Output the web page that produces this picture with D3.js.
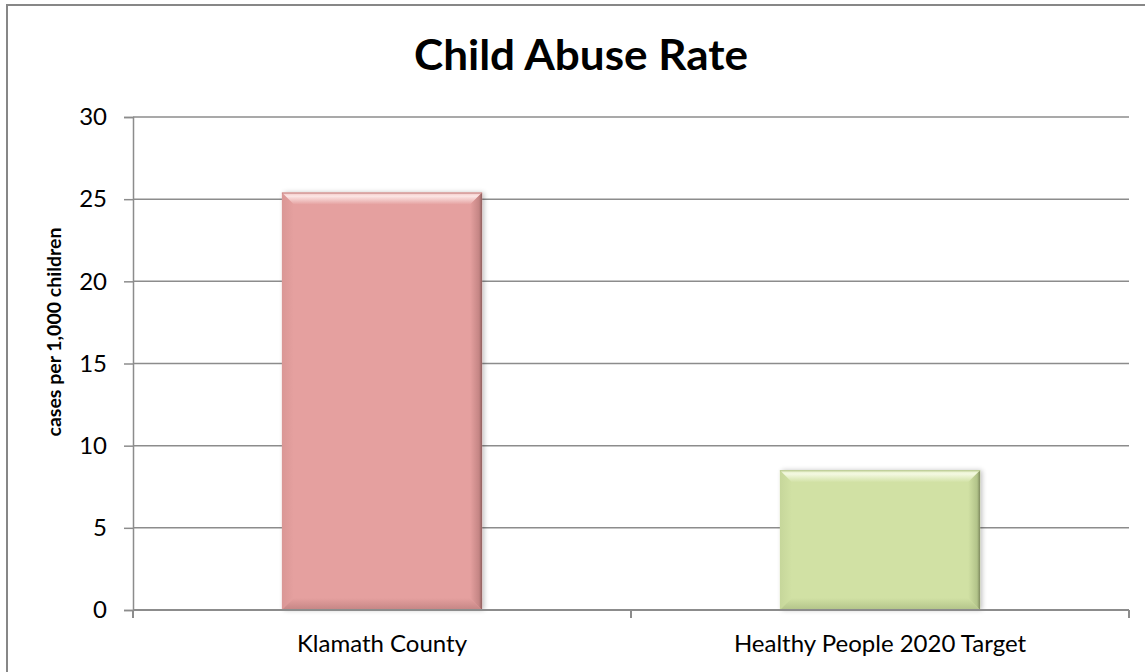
<!DOCTYPE html>
<html>
<head>
<meta charset="utf-8">
<script src="https://cdn.jsdelivr.net/npm/d3@7/dist/d3.min.js"></script>
<style>
  html, body { margin: 0; padding: 0; background: #fff; }
  svg { display: block; }
  text { font-family: Lato, "Open Sans", "DejaVu Sans", sans-serif; fill: #000; }
</style>
</head>
<body>
<svg id="chart" width="1145" height="672"></svg>
<script>
// ---- data ----
const categories = ["Klamath County", "Healthy People 2020 Target"];
const values = [25.4, 8.5];
const yTicks = [0, 5, 10, 15, 20, 25, 30];
const chartTitle = "Child Abuse Rate";
const yAxisTitle = "cases per 1,000 children";

// ---- styles ----
const barColors = [
  { base: "#E5A09F", light: "#F2C4C3", top: "#FCE6E5", dark: "#C48584", edge: "#8E5F5E" },
  { base: "#D1E1A4", light: "#E2EDC2", top: "#F4F9E2", dark: "#B2C389", edge: "#7E8A5E" }
];
const gridColor = "#8C8C8C";

const svg = d3.select("#chart");
const defs = svg.append("defs");

// outer chart border
svg.append("rect")
  .attr("x", 7).attr("y", 5).attr("width", 1160).attr("height", 700)
  .attr("fill", "#fff").attr("stroke", "#878787").attr("stroke-width", 2);

const plot = { left: 133, right: 1129, top: 117, bottom: 610 };

const x = d3.scaleBand().domain(categories).range([plot.left, plot.right]).padding(0);
const y = d3.scaleLinear().domain([0, 30]).range([plot.bottom, plot.top]);

// gridlines
svg.append("g").selectAll("line").data(yTicks.filter(d => d > 0)).join("line")
  .attr("x1", plot.left).attr("x2", plot.right)
  .attr("y1", d => y(d)).attr("y2", d => y(d))
  .attr("stroke", gridColor).attr("stroke-width", 1.5);

// y axis
const yAxis = d3.axisLeft(y).tickValues(yTicks).tickSize(9).tickPadding(17).tickFormat(d3.format("d"));
const gy = svg.append("g").attr("transform", `translate(${plot.left},0)`).call(yAxis);
gy.select(".domain").attr("stroke", gridColor).attr("stroke-width", 1.5);
gy.selectAll(".tick line").attr("stroke", gridColor).attr("stroke-width", 1.5);
gy.selectAll(".tick text").attr("font-size", 24).attr("fill", "#000")
  .style("font-family", "Lato, 'Open Sans', sans-serif");

// bars with bevel
const barW = x.bandwidth() * 0.402;
const bev = 12;

categories.forEach((c, i) => {
  const col = barColors[i];
  const x0 = x(c) + (x.bandwidth() - barW) / 2;
  const x1 = x0 + barW;
  const y0 = y(values[i]);
  const y1 = y(0);
  const g = svg.append("g");

  // soft shadow
  const fid = "shadow" + i;
  const f = defs.append("filter").attr("id", fid).attr("x", "-10%").attr("y", "-10%").attr("width", "120%").attr("height", "120%");
  f.append("feGaussianBlur").attr("in", "SourceAlpha").attr("stdDeviation", 2.5);
  f.append("feOffset").attr("dx", 2).attr("dy", 0).attr("result", "b");
  f.append("feComponentTransfer").append("feFuncA").attr("type", "linear").attr("slope", 0.25);
  const m = f.append("feMerge"); m.append("feMergeNode"); m.append("feMergeNode").attr("in", "SourceGraphic");

  g.append("rect").attr("x", x0).attr("y", y0).attr("width", barW).attr("height", y1 - y0)
    .attr("fill", col.base).attr("filter", `url(#${fid})`);

  // top bevel gradient
  const gt = defs.append("linearGradient").attr("id", "gt" + i).attr("x1", 0).attr("y1", 0).attr("x2", 0).attr("y2", 1);
  gt.append("stop").attr("offset", "0").attr("stop-color", col.light);
  gt.append("stop").attr("offset", "0.3").attr("stop-color", col.top);
  gt.append("stop").attr("offset", "1").attr("stop-color", col.base);
  g.append("polygon")
    .attr("points", [[x0, y0], [x1, y0], [x1 - bev, y0 + bev], [x0 + bev, y0 + bev]].map(p => p.join(",")).join(" "))
    .attr("fill", `url(#gt${i})`);

  // bottom bevel
  const gb = defs.append("linearGradient").attr("id", "gb" + i).attr("x1", 0).attr("y1", 0).attr("x2", 0).attr("y2", 1);
  gb.append("stop").attr("offset", "0").attr("stop-color", col.base);
  gb.append("stop").attr("offset", "1").attr("stop-color", col.dark);
  g.append("polygon")
    .attr("points", [[x0, y1], [x1, y1], [x1 - bev, y1 - bev], [x0 + bev, y1 - bev]].map(p => p.join(",")).join(" "))
    .attr("fill", `url(#gb${i})`);

  // right bevel
  const gr = defs.append("linearGradient").attr("id", "gr" + i).attr("x1", 0).attr("y1", 0).attr("x2", 1).attr("y2", 0);
  gr.append("stop").attr("offset", "0").attr("stop-color", col.base);
  gr.append("stop").attr("offset", "0.75").attr("stop-color", col.dark);
  gr.append("stop").attr("offset", "1").attr("stop-color", col.edge);
  g.append("polygon")
    .attr("points", [[x1, y0], [x1, y1], [x1 - bev, y1 - bev], [x1 - bev, y0 + bev]].map(p => p.join(",")).join(" "))
    .attr("fill", `url(#gr${i})`);

  // left bevel
  const gl = defs.append("linearGradient").attr("id", "gl" + i).attr("x1", 0).attr("y1", 0).attr("x2", 1).attr("y2", 0);
  gl.append("stop").attr("offset", "0").attr("stop-color", col.dark);
  gl.append("stop").attr("offset", "1").attr("stop-color", col.base);
  g.append("polygon")
    .attr("points", [[x0, y0], [x0, y1], [x0 + bev, y1 - bev], [x0 + bev, y0 + bev]].map(p => p.join(",")).join(" "))
    .attr("fill", `url(#gl${i})`).attr("opacity", 0.35);

  // top edge line
  g.append("line").attr("x1", x0).attr("x2", x1).attr("y1", y0 + 0.5).attr("y2", y0 + 0.5)
    .attr("stroke", col.dark).attr("stroke-width", 1);
});

// x axis
const gx = svg.append("g");
gx.append("line").attr("x1", plot.left).attr("x2", plot.right).attr("y1", y(0)).attr("y2", y(0))
  .attr("stroke", gridColor).attr("stroke-width", 2);
const bounds = categories.map(c => x(c)).concat([x(categories[categories.length - 1]) + x.bandwidth()]);
gx.selectAll("line.tk").data(bounds).join("line").attr("class", "tk")
  .attr("x1", d => d).attr("x2", d => d).attr("y1", y(0)).attr("y2", y(0) + 8)
  .attr("stroke", gridColor).attr("stroke-width", 2);
gx.selectAll("text").data(categories).join("text")
  .attr("x", d => x(d) + x.bandwidth() / 2).attr("y", 652)
  .attr("text-anchor", "middle").attr("font-size", 24)
  .text(d => d);

// y-axis title
svg.append("text")
  .attr("transform", `translate(61,332) rotate(-90)`)
  .attr("text-anchor", "middle").attr("font-size", 19.5).attr("font-weight", "bold")
  .text(yAxisTitle);

// chart title
svg.append("text")
  .attr("x", 581).attr("y", 70).attr("text-anchor", "middle")
  .attr("font-size", 42).attr("font-weight", "bold")
  .attr("textLength", 334).attr("lengthAdjust", "spacingAndGlyphs")
  .text(chartTitle);
</script>
</body>
</html>
